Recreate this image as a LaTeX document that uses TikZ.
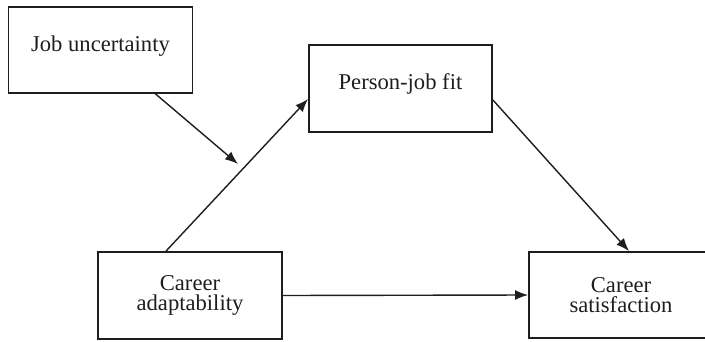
\documentclass[tikz,border=0pt]{standalone}
\usepackage{fontspec}
\setmainfont{Liberation Serif}
\usetikzlibrary{arrows.meta}
\definecolor{ink}{HTML}{1E1E1E}
\begin{document}
\begin{tikzpicture}[x=1pt,y=-1pt,
  box/.style={draw=ink,line width=1.8pt,rectangle,minimum width=184pt,minimum height=86pt,inner sep=0pt,
    font=\fontsize{22.6}{20.5}\selectfont,align=center,text=ink},
  onebox/.style={box,text height=0.7em,text depth=0.45em},
  conn/.style={draw=ink,line width=1.4pt,-{Latex[length=13pt,width=10pt]}}]
\useasboundingbox (0,0) rectangle (705,341);
\clip (0,0) rectangle (705,341);
\fill[white] (0,0) rectangle (705,341);
\node[onebox] (ju) at (100.5,50) {Job uncertainty};
\node[onebox,minimum width=183pt,minimum height=87pt] (pj) at (400.5,88.5) {Person-job fit};
\node[box,minimum height=87pt] (ca) at (190,295.5) {Career\\adaptability};
\node[box] (cs) at (621,295) {Career\\satisfaction};
\coordinate (m) at (238,164);
\draw[conn] ([xshift=55pt]ju.south) -- (m);
\draw[conn] ([xshift=-24pt]ca.north) -- ([yshift=-10.5pt]pj.west);
\draw[conn] ([yshift=-11.5pt]pj.east) -- ([xshift=8pt]cs.north);
\draw[conn] (ca.east) -- (cs.west);
\end{tikzpicture}
\end{document}
